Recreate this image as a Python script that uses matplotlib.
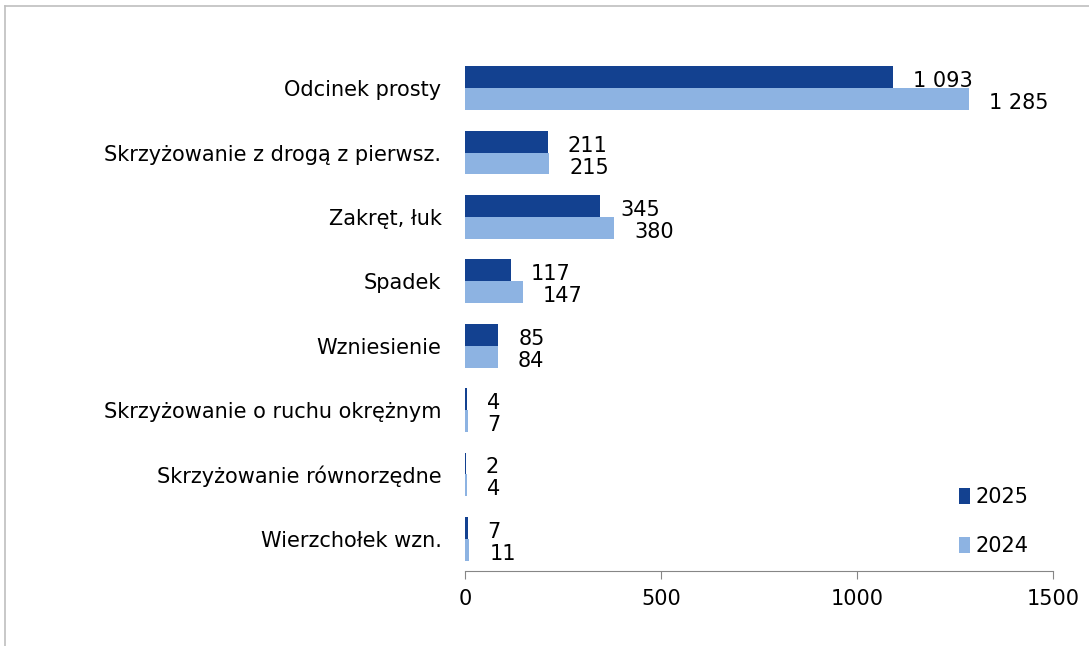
import matplotlib
matplotlib.use("Agg")
import matplotlib.pyplot as plt
import numpy as np

categories = [
    "Odcinek prosty",
    "Skrzyżowanie z drogą z pierwsz.",
    "Zakręt, łuk",
    "Spadek",
    "Wzniesienie",
    "Skrzyżowanie o ruchu okrężnym",
    "Skrzyżowanie równorzędne",
    "Wierzchołek wzn.",
]
values_2025 = [1093, 211, 345, 117, 85, 4, 2, 7]
values_2024 = [1285, 215, 380, 147, 84, 7, 4, 11]
series_labels = ["2025", "2024"]
x_ticks = [0, 500, 1000, 1500]

COLOR_2025 = "#134190"
COLOR_2024 = "#8DB3E2"
AXIS_GREY = "#868686"
FS = 15

plt.rcParams["font.family"] = ["DejaVu Sans"]

fig = plt.figure(figsize=(10.89, 6.46), dpi=100)
ax = fig.add_axes([465 / 1089, 1 - 571 / 646, (1053 - 465) / 1089, (571 - 56) / 646])

# light frame around the chart area (top and left only visible)
fig.add_artist(plt.Line2D([5 / 1089, 1], [1 - 6 / 646, 1 - 6 / 646], color="#BFBFBF", lw=1.2))
fig.add_artist(plt.Line2D([5 / 1089, 5 / 1089], [0, 1 - 6 / 646], color="#BFBFBF", lw=1.2))

y = np.arange(len(categories))
h = 0.34
b25 = ax.barh(y - h / 2, values_2025, height=h, color=COLOR_2025, label=series_labels[0])
b24 = ax.barh(y + h / 2, values_2024, height=h, color=COLOR_2024, label=series_labels[1])

def fmt(v):
    return f"{v:,}".replace(",", " ")

for bars, vals in ((b25, values_2025), (b24, values_2024)):
    for rect, v in zip(bars, vals):
        ax.annotate(fmt(v), xy=(v, rect.get_y() + rect.get_height() / 2),
                    xytext=(20, -4), textcoords="offset pixels",
                    ha="left", va="center", fontsize=FS, color="black")

ax.set_xlim(0, 1500)
ax.set_ylim(len(categories) - 0.5, -0.5)
ax.set_xticks(x_ticks)
ax.set_xticklabels([str(t) for t in x_ticks], fontsize=FS)
ax.set_yticks(y)
ax.set_yticklabels(categories, fontsize=FS)
ax.tick_params(axis="y", length=0, pad=17)
ax.tick_params(axis="x", direction="out", length=6, color=AXIS_GREY, pad=7)
for s in ("top", "right", "left"):
    ax.spines[s].set_visible(False)
ax.spines["bottom"].set_color(AXIS_GREY)

ax.legend(loc="lower right", bbox_to_anchor=(0.983, 0.0), frameon=False, fontsize=FS,
          handlelength=0.55, handleheight=0.8, handletextpad=0.25, labelspacing=1.4,
          borderaxespad=0.5, borderpad=0.2)

fig.savefig("out.png", dpi=100)
